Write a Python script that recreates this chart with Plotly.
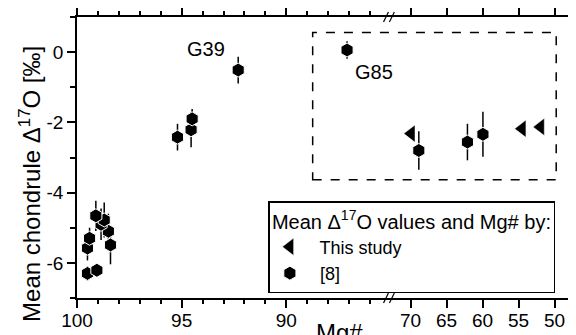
import plotly.graph_objects as go

# ---- data ----
# [8] chondrules, high-Mg# segment (left axis part)
ref8_mg_left = [99.5, 99.05, 99.5, 99.4, 98.4, 98.5, 98.85, 98.7, 99.1, 95.2, 94.55, 94.5, 92.3, 87.1]
ref8_d17_left = [-6.3, -6.21, -5.58, -5.3, -5.49, -5.1, -4.9, -4.78, -4.66, -2.42, -2.21, -1.9, -0.51, 0.06]
ref8_err_left = [0.2, 0.15, 0.35, 0.3, 0.55, 0.5, 0.45, 0.5, 0.43, 0.38, 0.5, 0.28, 0.38, 0.25]
# [8] chondrules, low-Mg# segment (right axis part)
ref8_mg_right = [68.85, 62.1, 59.95]
ref8_d17_right = [-2.8, -2.56, -2.34]
ref8_err_right = [0.55, 0.52, 0.64]
# This study
study_mg = [69.9, 54.5, 51.95]
study_d17 = [-2.32, -2.18, -2.13]
study_err = [0.15, 0.12, 0.1]

y_tickvals = [-6, -4, -2, 0]
y_ticktext = ["-6", "-4", "-2", "0"]
x1_tickvals = [100, 95, 90]
x1_ticktext = ["100", "95", "90"]
x2_tickvals = [70, 65, 60, 55, 50]
x2_ticktext = ["70", "65", "60", "55", "50"]

FONT = "Liberation Sans, Arial, sans-serif"
SPLIT = 0.634

fig = go.Figure()

hex_marker = dict(symbol="hexagon", size=14, color="black", line=dict(color="white", width=1))
tri_marker = dict(symbol="triangle-left", size=15, color="black", line=dict(color="white", width=0.5))
err_style = dict(type="data", thickness=1.5, width=0, color="black")

fig.add_trace(go.Scatter(
    x=study_mg, y=study_d17, mode="markers", name="  This study",
    marker=tri_marker, error_y=dict(array=study_err, **err_style),
    xaxis="x2", yaxis="y", legendgroup="study"))
fig.add_trace(go.Scatter(
    x=ref8_mg_left, y=ref8_d17_left, mode="markers", name="  [8]",
    marker=hex_marker, error_y=dict(array=ref8_err_left, **err_style),
    xaxis="x", yaxis="y", legendgroup="ref8"))
fig.add_trace(go.Scatter(
    x=ref8_mg_right, y=ref8_d17_right, mode="markers", name="  [8]",
    marker=hex_marker, error_y=dict(array=ref8_err_right, **err_style),
    xaxis="x2", yaxis="y", legendgroup="ref8", showlegend=False))

axis_common = dict(
    showline=True, linecolor="black", linewidth=1.5,
    ticks="outside", ticklen=8, tickwidth=1.5, tickcolor="black",
    showgrid=False, zeroline=False, automargin=False,
    tickfont=dict(family=FONT, size=19, color="black"),
)

# page body has an 8px margin: figure sized/margined so the plot lands where the reference has it
fig.update_layout(
    width=568, height=327,
    margin=dict(l=69, r=7, t=9, b=37, autoexpand=False),
    paper_bgcolor="white", plot_bgcolor="white",
    font=dict(family=FONT, color="black"),
    xaxis=dict(domain=[0, SPLIT], range=[100, 85.1], tickvals=x1_tickvals, ticktext=x1_ticktext,
               minor=dict(dtick=1, ticks="outside", ticklen=4, tickwidth=1.5, tickcolor="black", showgrid=False),
               anchor="y", mirror="ticks", ticklabelstandoff=-4, **axis_common),
    xaxis2=dict(domain=[SPLIT, 1], range=[73, 48], tickvals=x2_tickvals, ticktext=x2_ticktext,
                anchor="y", mirror="ticks", ticklabelstandoff=-4, **axis_common),
    yaxis=dict(range=[-7, 1], tickvals=y_tickvals, ticktext=y_ticktext,
               minor=dict(dtick=1, ticks="outside", ticklen=5, tickwidth=1.5, tickcolor="black", showgrid=False),
               anchor="x", mirror=False, **axis_common),
    yaxis2=dict(range=[-7, 1], overlaying="y", anchor="x2", side="right", dtick=1,
                showticklabels=False, showline=True, linecolor="black", linewidth=1.5,
                ticks="outside", ticklen=7, tickwidth=1.5, tickcolor="black",
                showgrid=False, zeroline=False, automargin=False),
    showlegend=True,
    legend=dict(
        x=0.389, y=0.345, xanchor="left", yanchor="top",
        bordercolor="black", borderwidth=1.5, bgcolor="white",
        font=dict(family=FONT, size=18, color="black"),
        title=dict(text="Mean Δ<sup>17</sup>O values and Mg# by:", font=dict(family=FONT, size=20, color="black")),
        tracegroupgap=0, itemsizing="trace",
    ),
)

# dashed box around low-Mg# region
fig.add_shape(type="rect", xref="paper", yref="y", x0=0.479, x1=0.974, y0=-3.63, y1=0.56,
              line=dict(color="black", width=1.5, dash="dash"), fillcolor="rgba(0,0,0,0)")

# axis break marks
for yb in (0, 1):
    for dx in (-0.006, 0.006):
        fig.add_shape(type="line", xref="paper", yref="paper",
                      x0=SPLIT + dx - 0.005, x1=SPLIT + dx + 0.005,
                      y0=yb - 0.018, y1=yb + 0.018,
                      line=dict(color="black", width=1.2))

# labels
fig.add_annotation(x=93.85, y=0.08, xref="x", yref="y", text="G39", showarrow=False,
                   font=dict(family=FONT, size=20, color="black"))
fig.add_annotation(x=85.8, y=-0.57, xref="x", yref="y", text="G85", showarrow=False,
                   font=dict(family=FONT, size=20, color="black"))
fig.add_annotation(x=0.533, y=-0.066, xref="paper", yref="paper", text="Mg#", showarrow=False,
                   xanchor="center", yanchor="top", font=dict(family=FONT, size=24, color="black"))
fig.add_annotation(x=-0.096, y=0.405, xref="paper", yref="paper",
                   text="Mean chondrule Δ<sup>17</sup>O [‰]", showarrow=False, textangle=-90,
                   xanchor="center", yanchor="middle", font=dict(family=FONT, size=24, color="black"))

fig.write_html("out.html")
